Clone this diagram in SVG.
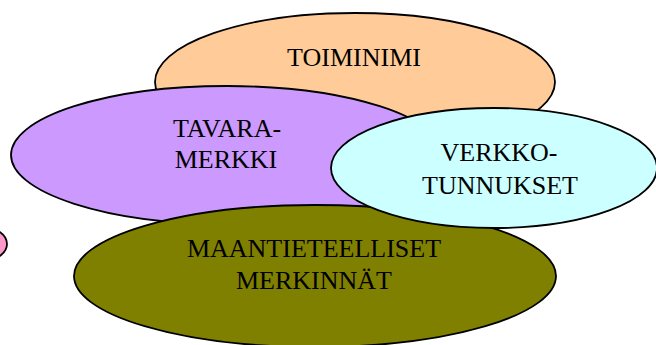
<svg xmlns="http://www.w3.org/2000/svg" width="656" height="345" viewBox="0 0 656 345">
<style>
.e{stroke:#000;stroke-width:1.8}
.t{font-family:"Liberation Serif","Times New Roman",serif;font-size:26px;fill:#000;text-anchor:middle}
</style>
<rect width="656" height="345" fill="#fff"/>
<g id="pink"><ellipse class="e" cx="-25" cy="244" rx="32" ry="19" fill="#FF99CC"/></g>
<g id="toiminimi"><ellipse class="e" cx="355" cy="82" rx="200" ry="69" fill="#FFCC99"/><text class="t" x="354" y="66">TOIMINIMI</text></g>
<g id="tavaramerkki"><ellipse class="e" cx="227" cy="155" rx="216" ry="69" fill="#CC99FF"/><text class="t" x="227" y="137">TAVARA-</text><text class="t" x="226" y="168">MERKKI</text></g>
<g id="maantieteelliset"><ellipse class="e" cx="315" cy="276" rx="241" ry="71" fill="#808000"/><text class="t" x="314" y="257">MAANTIETEELLISET</text><text class="t" x="314" y="289">MERKINNÄT</text></g>
<g id="verkkotunnukset"><ellipse class="e" cx="494" cy="168" rx="163" ry="60" fill="#CCFFFF"/><text class="t" x="499" y="161">VERKKO-</text><text class="t" x="500" y="194">TUNNUKSET</text></g>
<g id="connectors"/>
</svg>
